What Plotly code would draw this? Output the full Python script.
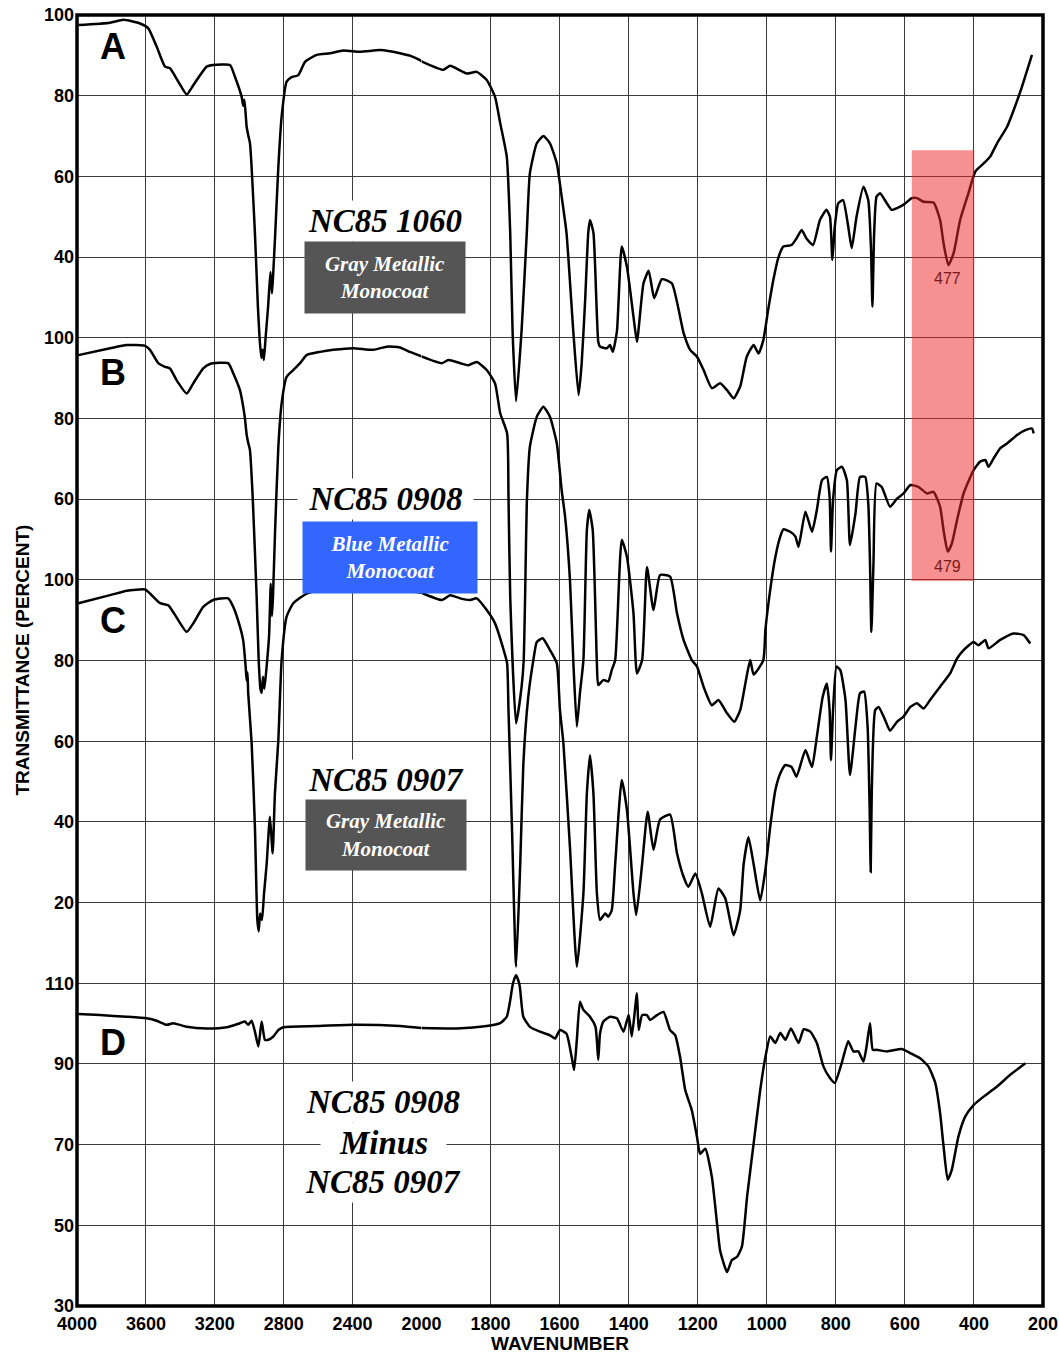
import plotly.graph_objects as go

# ---------------- spectra (wavenumber, %T) ----------------
A_wn = [3992, 3808, 3731, 3634, 3586, 3537, 3489, 3460, 3412, 3363, 3325, 3247, 3209, 3112, 3083,
        3044, 3035, 3028, 3015, 3005, 2996, 2967, 2950, 2940, 2930, 2922, 2915, 2905, 2890, 2877,
        2868, 2862, 2850, 2831, 2812, 2783, 2754, 2715, 2676, 2608, 2531, 2454, 2357, 2241, 2183,
        2125, 2060, 2009, 2000, 1937, 1917, 1869, 1840, 1811, 1787, 1772, 1753, 1743, 1736, 1726,
        1710, 1695, 1686, 1666, 1647, 1628, 1608, 1594, 1580, 1560, 1545, 1536, 1526, 1517, 1512,
        1502, 1488, 1483, 1463, 1454, 1446, 1434, 1420, 1405, 1386, 1376, 1357, 1342, 1326, 1304,
        1275, 1241, 1222, 1202, 1183, 1159, 1135, 1115, 1096, 1077, 1058, 1038, 1024, 1010, 996,
        981, 967, 952, 928, 914, 899, 885, 866, 846, 827, 817, 810, 803, 793, 779, 764, 754, 740,
        720, 706, 698, 694, 689, 682, 672, 652, 638, 614, 599, 580, 565, 546, 517, 498, 488, 474,
        459, 440, 416, 396, 372, 353, 333, 304, 285, 261, 232]
A_t = [97.5, 98.1, 98.8, 97.9, 96.7, 92.1, 87.2, 86.8, 83.5, 80.3, 82.6, 87.2, 87.6, 87.6, 84.7,
       79.7, 77.5, 79.0, 72.3, 70.0, 68.3, 46.0, 28.0, 20.0, 15.0, 17.0, 14.5, 20.0, 28.0, 36.3,
       31.0, 35.0, 45.0, 62.4, 74.8, 83.5, 84.6, 85.1, 88.4, 90.1, 90.5, 91.2, 90.9, 91.3, 91.0,
       90.5, 89.8, 88.8, 88.5, 86.4, 87.4, 85.5, 85.9, 83.9, 79.7, 73.2, 64.9, 46.0, 21.2, 4.3,
       21.9, 46.0, 60.8, 68.2, 70.0, 68.2, 63.2, 55.0, 46.0, 21.2, 5.8, 13.7, 29.3, 46.0, 49.2,
       46.0, 19.0, 17.8, 17.4, 18.2, 16.5, 21.5, 42.6, 37.6, 25.2, 19.0, 33.5, 36.6, 29.8, 34.5,
       33.5, 21.2, 17.0, 15.3, 12.0, 7.5, 8.7, 7.0, 5.0, 7.9, 15.3, 18.2, 16.1, 19.4, 26.9,
       34.3, 39.7, 42.6, 43.0, 44.6, 46.7, 44.6, 43.0, 49.2, 51.7, 50.0, 39.3, 47.5, 53.3, 54.1,
       47.5, 42.2, 50.0, 57.4, 54.1, 41.7, 27.7, 46.0, 55.0, 55.8, 53.3, 51.7, 52.5, 53.3, 54.6,
       54.6, 53.7, 53.5, 49.2, 43.4, 38.0, 40.9, 49.2, 55.8, 61.2, 63.2, 64.9, 68.2, 72.3, 76.4,
       82.2, 90.1]

B_wn = [3992, 3808, 3711, 3605, 3576, 3528, 3489, 3460, 3422, 3363, 3325, 3267, 3228, 3122, 3093,
        3054, 3035, 3025, 3015, 3006, 2996, 2980, 2957, 2945, 2935, 2928, 2920, 2912, 2900, 2885,
        2875, 2868, 2862, 2850, 2831, 2812, 2783, 2744, 2705, 2667, 2589, 2512, 2396, 2280, 2202,
        2125, 2067, 2000, 1941, 1922, 1888, 1864, 1840, 1811, 1787, 1772, 1752, 1748, 1743, 1726,
        1710, 1704, 1699, 1695, 1686, 1666, 1647, 1628, 1608, 1594, 1584, 1570, 1560, 1550, 1541,
        1531, 1521, 1514, 1504, 1492, 1488, 1473, 1459, 1449, 1439, 1420, 1405, 1386, 1376, 1361,
        1347, 1328, 1309, 1280, 1260, 1241, 1217, 1202, 1183, 1159, 1140, 1115, 1094, 1077, 1062,
        1048, 1038, 1010, 1004, 990, 975, 961, 952, 932, 917, 908, 888, 869, 855, 840, 826, 818,
        814, 808, 797, 782, 768, 759, 743, 730, 715, 706, 701, 697, 691, 682, 667, 643, 623, 604,
        584, 560, 536, 517, 498, 488, 476, 464, 449, 430, 401, 382, 367, 358, 343, 324, 304, 275,
        251, 232, 227]
B_t = [95.7, 97.4, 98.2, 98.0, 97.0, 93.7, 92.8, 92.4, 89.5, 86.2, 88.7, 92.4, 93.5, 93.7, 91.2,
       87.0, 82.9, 80.0, 76.0, 74.0, 72.2, 60.6, 35.8, 20.0, 13.0, 12.0, 16.0, 13.0, 18.0, 26.0,
       39.0, 31.0, 36.0, 52.0, 73.0, 83.7, 90.3, 92.0, 93.7, 95.7, 96.5, 97.0, 97.4, 97.0, 97.8,
       97.6, 96.5, 95.4, 93.7, 94.5, 93.7, 93.2, 94.0, 92.0, 88.7, 81.3, 76.3, 60.6, 35.8, 4.4,
       13.5, 20.0, 40.0, 58.9, 73.0, 80.4, 82.9, 80.4, 73.8, 62.2, 55.6, 40.0, 19.3, 3.6, 12.0,
       20.1, 52.3, 57.3, 52.3, 19.3, 13.9, 15.2, 14.8, 17.6, 20.1, 49.9, 45.7, 31.7, 16.8, 20.1,
       43.2, 32.5, 41.2, 40.8, 31.7, 25.1, 20.1, 18.5, 13.5, 8.9, 10.2, 6.9, 4.8, 7.7, 14.3,
       20.1, 16.5, 20.1, 27.5, 37.5, 45.7, 50.7, 52.5, 51.9, 50.7, 48.2, 56.9, 51.9, 57.3, 64.7,
       65.5, 60.6, 47.0, 59.8, 67.2, 68.0, 64.7, 48.6, 56.5, 65.5, 65.5, 58.9, 44.0, 27.1, 44.0,
       63.9, 63.0, 58.1, 60.1, 61.4, 63.5, 63.0, 61.4, 61.8, 58.1, 52.3, 47.0, 49.0, 54.8, 61.4,
       67.2, 69.3, 69.7, 68.0, 70.1, 72.6, 73.8, 75.9, 77.1, 77.5, 76.3]

C_wn = [3992, 3808, 3711, 3605, 3576, 3518, 3470, 3431, 3363, 3325, 3267, 3209, 3122, 3093, 3054,
        3035, 3020, 3015, 3010, 3006, 2986, 2967, 2953, 2945, 2937, 2926, 2914, 2899, 2880, 2864,
        2851, 2831, 2812, 2783, 2744, 2667, 2589, 2400, 2200, 2028, 2000, 1941, 1917, 1888, 1859,
        1840, 1811, 1787, 1762, 1752, 1748, 1738, 1726, 1714, 1705, 1691, 1676, 1666, 1649, 1628,
        1608, 1599, 1589, 1570, 1550, 1531, 1521, 1512, 1502, 1492, 1483, 1468, 1459, 1449, 1439,
        1420, 1405, 1386, 1378, 1361, 1345, 1328, 1309, 1280, 1260, 1241, 1227, 1207, 1188, 1164,
        1140, 1120, 1096, 1077, 1067, 1053, 1038, 1019, 1004, 990, 975, 961, 946, 928, 914, 888,
        869, 855, 838, 826, 818, 814, 808, 798, 787, 772, 759, 743, 730, 718, 708, 702, 699, 696,
        686, 676, 657, 643, 623, 604, 584, 565, 546, 527, 498, 469, 449, 430, 401, 387, 367, 358,
        324, 285, 256, 237]
C_t = [94.2, 96.2, 97.3, 97.6, 96.6, 94.2, 93.7, 91.3, 87.1, 89.2, 93.3, 95.0, 95.4, 93.3, 88.4,
       85.0, 78.0, 75.0, 77.0, 71.9, 59.5, 38.8, 15.7, 12.9, 17.3, 15.7, 22.3, 29.5, 41.3, 32.2,
       47.0, 60.3, 80.1, 90.9, 94.2, 96.6, 97.5, 97.5, 97.2, 97.0, 96.8, 95.0, 96.2, 95.4, 95.0,
       95.4, 92.5, 89.2, 82.6, 79.3, 67.7, 38.8, 4.1, 29.5, 54.3, 70.8, 80.1, 84.6, 85.5, 82.6,
       79.3, 67.7, 59.5, 33.7, 4.1, 22.3, 47.0, 56.5, 47.0, 22.3, 15.7, 17.3, 16.5, 18.1, 29.5,
       50.4, 43.0, 22.3, 16.9, 29.5, 42.5, 33.1, 40.6, 41.8, 32.2, 26.4, 23.9, 27.2, 22.3, 14.0,
       23.5, 21.0, 11.9, 18.1, 29.5, 36.2, 29.5, 20.5, 28.1, 38.8, 47.9, 52.0, 54.1, 53.6, 51.2, 57.8,
       53.6, 61.1, 71.0, 74.3, 67.7, 55.3, 67.7, 78.5, 77.6, 70.2, 51.6, 63.6, 71.9, 72.3, 63.6, 43.0,
       27.6, 47.0, 67.7, 68.5, 65.2, 62.6, 64.8, 66.1, 68.5, 69.4, 68.1, 70.2, 73.5, 76.8, 80.5, 82.6,
       84.6, 83.8, 85.1, 83.0, 85.1, 86.7, 86.3, 84.2]

D_wn = [3992, 3866, 3711, 3595, 3537, 3479, 3441, 3363, 3247, 3131, 3054, 3025, 3006, 2986, 2967,
        2947, 2928, 2909, 2889, 2860, 2831, 2802, 2608, 2396, 2125, 2000, 1898, 1811, 1772, 1753,
        1743, 1735, 1726, 1717, 1714, 1705, 1686, 1657, 1628, 1613, 1599, 1580, 1565, 1558, 1550,
        1541, 1531, 1512, 1496, 1488, 1483, 1473, 1454, 1434, 1415, 1400, 1391, 1376, 1371, 1361,
        1347, 1338, 1318, 1299, 1280, 1265, 1251, 1236, 1217, 1202, 1193, 1178, 1159, 1144, 1135,
        1115, 1101, 1086, 1072, 1057, 1038, 1019, 1004, 990, 975, 961, 946, 930, 908, 893, 874,
        855, 836, 817, 803, 783, 764, 749, 735, 720, 711, 701, 693, 682, 652, 609, 585, 556, 532,
        512, 498, 488, 476, 464, 445, 425, 401, 372, 333, 295, 251]
D_t = [102.4, 102.1, 101.7, 101.3, 100.7, 99.7, 100.1, 99.2, 98.8, 99.1, 100.1, 100.5, 99.7, 100.7,
       98.0, 94.3, 100.5, 96.0, 96.0, 96.8, 98.4, 99.1, 99.4, 99.7, 99.4, 98.9, 98.8, 99.4, 100.1,
       101.7, 105.8, 110.0, 112.0, 110.0, 108.3, 101.7, 99.2, 98.0, 97.1, 96.3, 98.4, 97.5, 91.7,
       88.5, 96.0, 105.4, 103.4, 101.7, 99.2, 91.0, 97.5, 100.5, 101.7, 101.3, 98.0, 102.1, 96.8,
       107.5, 98.4, 102.1, 102.1, 100.9, 102.1, 102.9, 98.4, 97.1, 91.7, 83.5, 78.5, 71.9, 67.7,
       69.0, 62.0, 50.4, 43.7, 38.4, 41.4, 42.2, 44.7, 57.1, 70.3, 83.5, 91.7, 96.8, 95.2, 97.7,
       96.0, 98.8, 95.2, 98.6, 98.0, 95.2, 89.4, 86.5, 85.3, 90.2, 95.6, 93.1, 93.1, 90.6, 94.3,
       100.1, 93.5, 93.5, 93.1, 93.7, 92.7, 91.4, 89.4, 85.3, 77.8, 69.6, 61.3, 63.8, 72.0, 77.0,
       79.8, 81.9, 84.4, 87.3, 90.2]

# ---------------- axis labels ----------------
X_TICKS_HIGH = [4000, 3600, 3200, 2800, 2400]
X_TICKS_LOW = [2000, 1800, 1600, 1400, 1200, 1000, 800, 600, 400, 200]
Y_TICKS_A = [40, 60, 80, 100]
Y_TICKS_B = [60, 80, 100]
Y_TICKS_C = [20, 40, 60, 80, 100]
Y_TICKS_D = [30, 50, 70, 90, 110]

# stacked panels share one vertical scale; each panel has its own offset range
Y_RANGE_A = [-220, 100]
Y_RANGE_B = [-140, 180]
Y_RANGE_C = [-80, 240]
Y_RANGE_D = [30, 350]

SPLIT = 2000          # scale doubles below 2000 cm-1
X_DOMAIN_SPLIT = 0.3566

GRID = "#3a3a3a"
TICK_FONT = dict(family="Liberation Sans, Arial, sans-serif", size=18, color="black", weight="bold")
SERIF_BI = "Liberation Serif, Times New Roman, serif"

fig = go.Figure()


def add_spectrum(wn, t, yax):
    hi = [(w, v) for w, v in zip(wn, t) if w >= SPLIT]
    lo = [(w, v) for w, v in zip(wn, t) if w <= SPLIT]
    for part, xax in ((hi, "x"), (lo, "x2")):
        fig.add_trace(go.Scatter(
            x=[p[0] for p in part], y=[p[1] for p in part],
            xaxis=xax, yaxis=yax, mode="lines",
            line=dict(color="black", width=2.5, shape="spline", smoothing=0.5),
            showlegend=False, hoverinfo="skip"))


add_spectrum(A_wn, A_t, "y")
add_spectrum(B_wn, B_t, "y2")
add_spectrum(C_wn, C_t, "y3")
add_spectrum(D_wn, D_t, "y4")

grid_vals = list(range(Y_RANGE_A[0], Y_RANGE_A[1] + 1, 20))

common_x = dict(showgrid=True, gridcolor=GRID, gridwidth=1.2, zeroline=False, ticks="",
                tickfont=TICK_FONT, showline=False, anchor="y", fixedrange=True,
                automargin=False, ticklabelstandoff=5)
common_y = dict(zeroline=False, ticks="", tickfont=TICK_FONT, showline=False,
                anchor="x", side="left", fixedrange=True, automargin=False,
                ticklabelstandoff=2)

fig.update_layout(
    width=1059, height=1355,
    margin=dict(l=77, r=16, t=15, b=49),
    paper_bgcolor="white", plot_bgcolor="white",
    xaxis=dict(domain=[0, X_DOMAIN_SPLIT], range=[4000, SPLIT], tickvals=X_TICKS_HIGH, **common_x),
    xaxis2=dict(domain=[X_DOMAIN_SPLIT, 1], range=[SPLIT, 200], tickvals=X_TICKS_LOW, **common_x),
    yaxis=dict(range=Y_RANGE_A, tickvals=grid_vals,
               ticktext=[str(v) if v in Y_TICKS_A else "" for v in grid_vals],
               showgrid=True, gridcolor=GRID, gridwidth=1.2, **common_y),
    yaxis2=dict(range=Y_RANGE_B, tickvals=Y_TICKS_B, overlaying="y", showgrid=False, **common_y),
    yaxis3=dict(range=Y_RANGE_C, tickvals=Y_TICKS_C, overlaying="y", showgrid=False, **common_y),
    yaxis4=dict(range=Y_RANGE_D, tickvals=Y_TICKS_D, overlaying="y", showgrid=False, **common_y),
)

# highlighted Si-O band near 477 cm-1 (spans panels A and B)
fig.add_shape(type="rect", xref="x2", yref="y", x0=580, x1=399, y0=-40.3, y1=66.5,
              fillcolor="rgba(240,40,40,0.51)", line=dict(width=0), layer="above")
# frame
fig.add_shape(type="rect", xref="paper", yref="paper", x0=0, x1=1, y0=0, y1=1,
              line=dict(color="black", width=3.5), layer="above")

ann = []


def label(text, x, y, xref="x", yref="y", size=33, color="black", bg=None, w=None, h=None,
          family=SERIF_BI, style="italic", weight="bold", angle=0):
    d = dict(text=text, x=x, y=y, xref=xref, yref=yref, showarrow=False,
             xanchor="center", yanchor="middle", align="center", valign="middle",
             textangle=angle, borderpad=0,
             font=dict(family=family, size=size, color=color, style=style, weight=weight))
    if bg:
        d["bgcolor"] = bg
    if w:
        d["width"] = w
    if h:
        d["height"] = h
    ann.append(d)


SANS = "Liberation Sans, Arial, sans-serif"
for letter, y, yref in (("A", 92.3, "y"), ("B", 91.3, "y2"), ("C", 90.0, "y3"), ("D", 95.4, "y4")):
    label(letter, 3791, y, yref=yref, size=36, family=SANS, style="normal")

label("NC85 1060", 2212, 48.9, yref="y", bg="white", w=172, h=40)
label("Gray Metallic<br>Monocoat", 2212, 34.9, yref="y", size=21, color="white",
      bg="#555555", w=160, h=71)
label("NC85 0908", 2206, 60.0, yref="y2", bg="white", w=175, h=40)
label("Blue Metallic<br>Monocoat", 2183, 45.5, yref="y2", size=21, color="white",
      bg="#3366ff", w=174, h=71)
label("NC85 0907", 2206, 50.4, yref="y3", bg="white", w=170, h=40)
label("Gray Metallic<br>Monocoat", 2206, 36.7, yref="y3", size=21, color="white",
      bg="#555555", w=160, h=70)
label("NC85 0908", 2223, 80.5, yref="y4", bg="white", w=160, h=40)
label("Minus", 2223, 70.5, yref="y4", bg="white", w=125, h=40)
label("NC85 0907", 2223, 60.7, yref="y4", bg="white", w=160, h=40)

label("477", 477, 34.8, xref="x2", yref="y", size=16, color="#7a1a1a", family=SANS,
      style="normal", weight="normal")
label("479", 477, 43.4, xref="x2", yref="y2", size=16, color="#7a1a1a", family=SANS,
      style="normal", weight="normal")

label("WAVENUMBER", 0.5, -0.0287, xref="paper", yref="paper", size=19, family=SANS,
      style="normal")
label("TRANSMITTANCE (PERCENT)", -0.0569, 0.5, xref="paper", yref="paper", size=19,
      family=SANS, style="normal", angle=-90)

fig.update_layout(annotations=ann)

fig.write_html("out.html")
